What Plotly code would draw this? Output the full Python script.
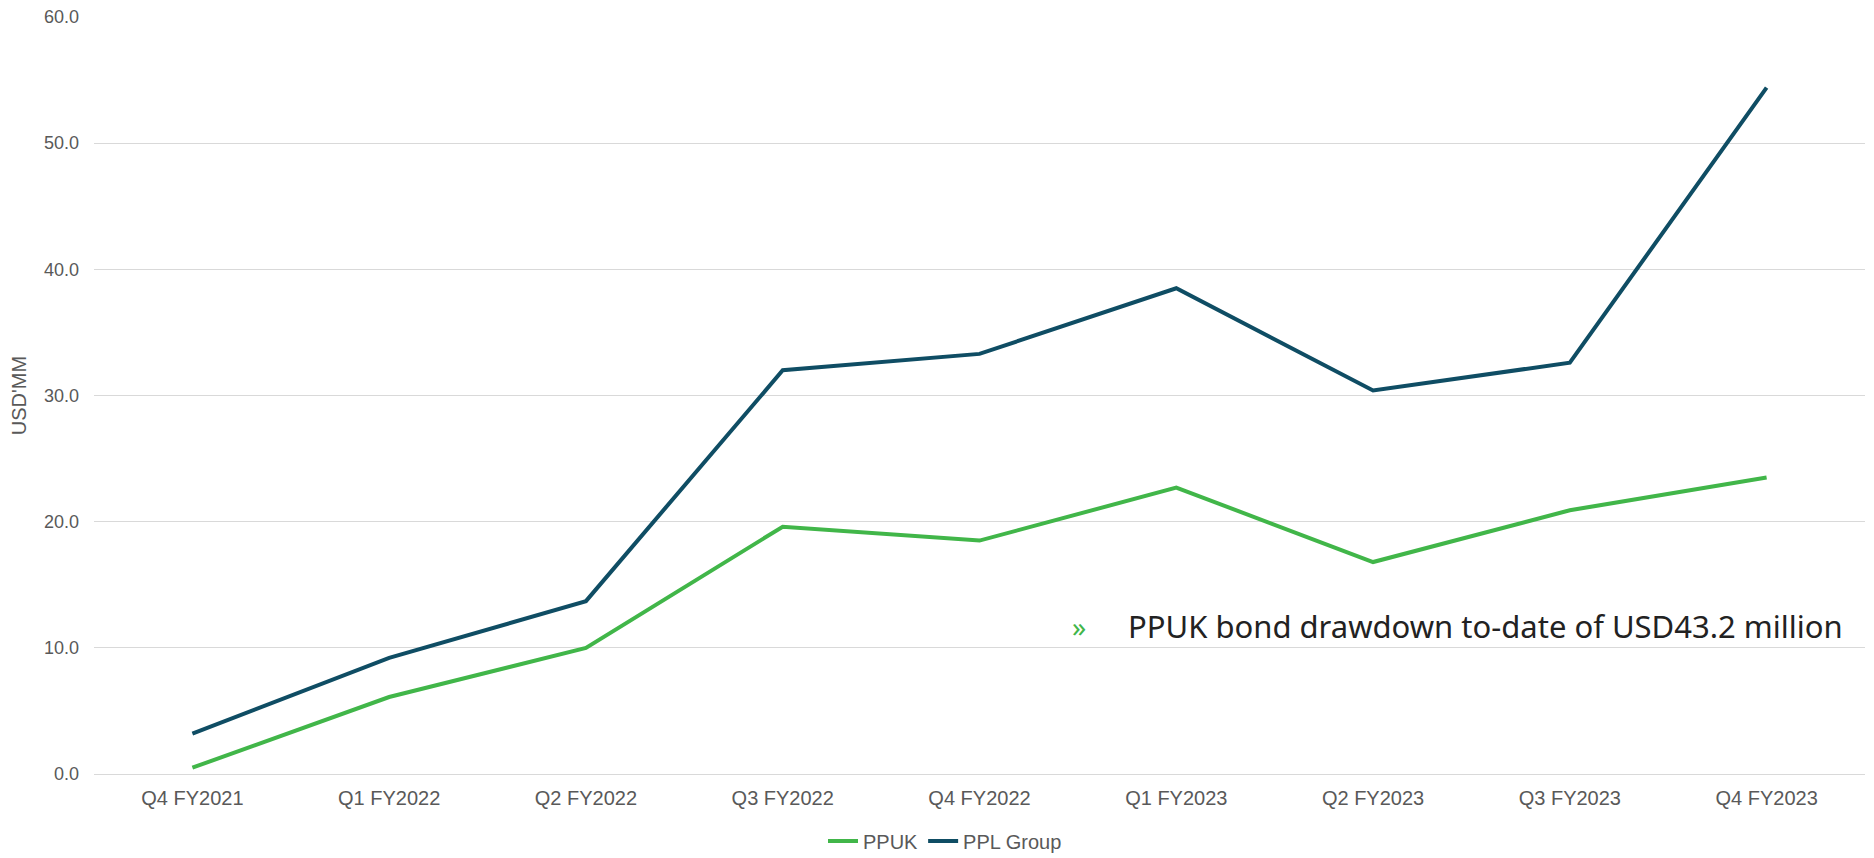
import plotly.graph_objects as go

# Data
quarters = ['Q4 FY2021', 'Q1 FY2022', 'Q2 FY2022', 'Q3 FY2022', 'Q4 FY2022',
            'Q1 FY2023', 'Q2 FY2023', 'Q3 FY2023', 'Q4 FY2023']
ppuk = [0.5, 6.1, 10.0, 19.6, 18.5, 22.7, 16.8, 20.9, 23.5]
ppl_group = [3.2, 9.2, 13.7, 32.0, 33.3, 38.5, 30.4, 32.6, 54.4]

GREEN = '#41b649'
TEAL = '#0f4d64'
GREY = '#595959'

fig = go.Figure()
fig.add_trace(go.Scatter(x=quarters, y=ppuk, mode='lines', name='PPUK',
                         line=dict(color=GREEN, width=4)))
fig.add_trace(go.Scatter(x=quarters, y=ppl_group, mode='lines', name='PPL Group',
                         line=dict(color=TEAL, width=4)))

# Callout text
fig.add_annotation(text='»', xref='paper', yref='y', x=0.556, y=11.7,
                   showarrow=False, xanchor='center', yanchor='middle',
                   font=dict(family='Noto Sans', size=28, color=GREEN))
fig.add_annotation(text='PPUK bond drawdown to-date of USD43.2 million',
                   xref='paper', yref='y', x=0.583, y=11.7,
                   showarrow=False, xanchor='left', yanchor='middle',
                   font=dict(family='Noto Sans', size=31, color='#222222'))

# page body adds an 8px margin, margins are offset for it
fig.update_layout(
    width=1874, height=858,
    margin=dict(l=86, r=17, t=9, b=92),
    plot_bgcolor='white', paper_bgcolor='white',
    font=dict(family='Liberation Sans, Arial', color=GREY, size=17),
    showlegend=True,
    legend=dict(orientation='h', xref='container', yref='container',
                x=0.5, xanchor='center', y=0.029, yanchor='middle',
                font=dict(size=20, color=GREY)),
    xaxis=dict(showgrid=False, showline=False, zeroline=False,
               range=[-0.5, 8.5], ticklabelstandoff=10, automargin=False,
               tickfont=dict(size=20, color=GREY)),
    yaxis=dict(range=[0, 60], dtick=10, tickformat='.1f',
               showgrid=True, gridcolor='#d9d9d9', gridwidth=1,
               zeroline=True, zerolinecolor='#d9d9d9', zerolinewidth=1,
               showline=False, ticklabelstandoff=14, ticklabeloverflow='allow',
               automargin=False,
               tickfont=dict(size=18, color=GREY),
               title=dict(text="USD'MM", font=dict(size=20, color=GREY), standoff=12)),
)

fig.write_html('out.html')
